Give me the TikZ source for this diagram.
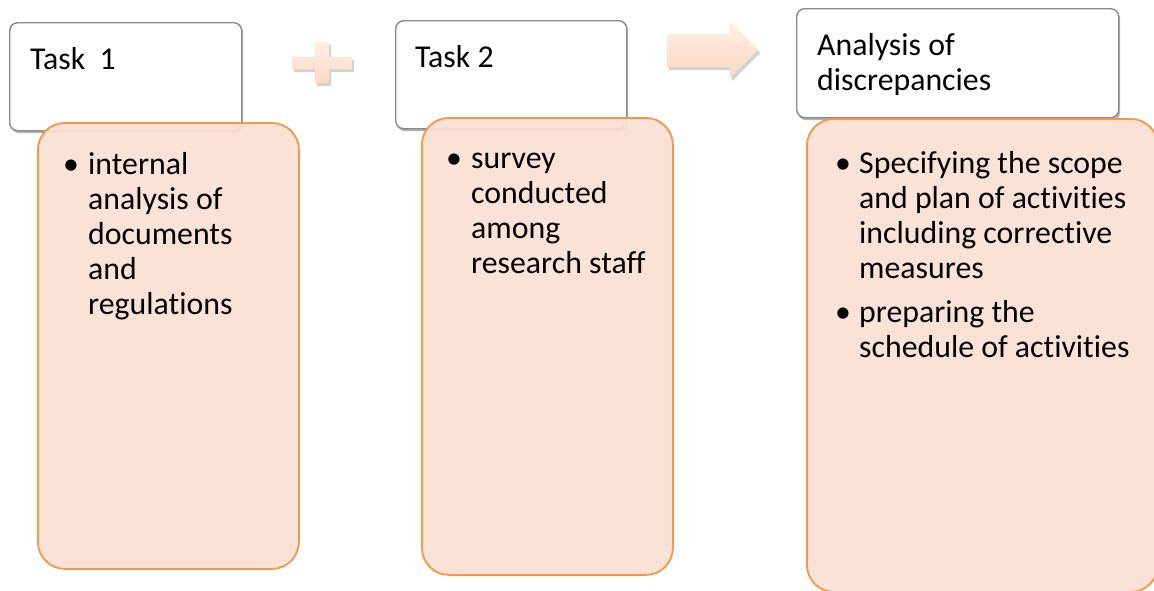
\documentclass[tikz,border=0pt]{standalone}
\usepackage{fontspec}
\setmainfont{Carlito}[Ligatures=NoCommon]
\definecolor{orangeedge}{HTML}{F79646}
\definecolor{orangefill}{HTML}{FBDFD3}
\definecolor{peachtop}{HTML}{FEEFE5}
\definecolor{peachbot}{HTML}{FCD8C0}
\definecolor{grayedge}{HTML}{8A8A8A}
\tikzset{
  headbox/.style={draw=grayedge, line width=1.4pt, fill=white, rounded corners=8pt,
    anchor=north west, inner sep=0pt},
  headshadow/.style={draw=none, fill=black, fill opacity=0.3, rounded corners=8pt,
    anchor=north west, inner sep=0pt},
  bodybox/.style={draw=orangeedge, line width=1.8pt, fill=orangefill, fill opacity=0.92,
    rounded corners=27pt, anchor=north west, inner sep=0pt},
  txt/.style={anchor=base west, inner sep=0pt, font=\fontsize{31.8}{35}\selectfont},
  symshape/.style={draw=none, top color=peachtop, bottom color=peachbot},
  symshadow/.style={draw=none, fill=black, fill opacity=0.18}
}
\newcommand{\lines}[1]{\parbox[t]{320pt}{\raggedright #1}}
\newcommand{\pluspath}{(292,57) -- (315,57) -- (315,42) -- (329,42) -- (329,57) -- (352,57)
  -- (352,69) -- (329,69) -- (329,83) -- (315,83) -- (315,69) -- (292,69) -- cycle}
\newcommand{\arrowpath}{(667,34) -- (730,34) -- (730,22) -- (758,50) -- (730,78) -- (730,67)
  -- (667,67) -- cycle}
\begin{document}
\begin{tikzpicture}[x=1pt,y=-1pt]
\useasboundingbox (0,0) rectangle (1154,590);
\clip (0,0) rectangle (1154,590);

% header box shadows
\node[headshadow, minimum width=232pt, minimum height=108pt] (s1) at (11,25) {};
\node[headshadow, minimum width=231pt, minimum height=108pt] (s2) at (397,23) {};
\node[headshadow, minimum width=322pt, minimum height=109pt] (s3) at (798,11) {};

% header boxes
\node[headbox, minimum width=232pt, minimum height=108pt] (h1) at (9,22) {};
\node[headbox, minimum width=231pt, minimum height=108pt] (h2) at (395,20) {};
\node[headbox, minimum width=322pt, minimum height=109pt] (h3) at (796,8) {};

% header texts
\node[txt] (t1) at (30,69) {Task\ \ 1};
\node[txt] (t2) at (415,67) {Task 2};
\node[txt] (t3) at (817,55) {\lines{Analysis of\\discrepancies}};

% body boxes
\node[bodybox, minimum width=261pt, minimum height=446pt] (b1) at (37,122) {};
\node[bodybox, minimum width=251pt, minimum height=457pt] (b2) at (421,117) {};
\node[bodybox, minimum width=351pt, minimum height=473pt] (b3) at (806,118) {};

% plus sign
\begin{scope}[shift={(2,3)}]
  \path[symshadow] \pluspath;
\end{scope}
\path[symshape] \pluspath;

% arrow
\begin{scope}[shift={(2,3)}]
  \path[symshadow] \arrowpath;
\end{scope}
\path[symshape] \arrowpath;

% body texts
\node[txt] (d1) at (63,174) {•};
\node[txt] (x1) at (88,174) {\lines{internal\\analysis of\\documents\\and\\regulations}};

\node[txt] (d2) at (446,168) {•};
\node[txt] (x2) at (471,168) {\lines{survey\\conducted\\among\\research staff}};

\node[txt] (d3) at (835,173) {•};
\node[txt] (x3) at (859,173) {\lines{Specifying the scope\\and plan of activities\\including corrective\\measures}};
\node[txt] (d4) at (835,322) {•};
\node[txt] (x4) at (859,322) {\lines{preparing the\\schedule of activities}};
\end{tikzpicture}
\end{document}
